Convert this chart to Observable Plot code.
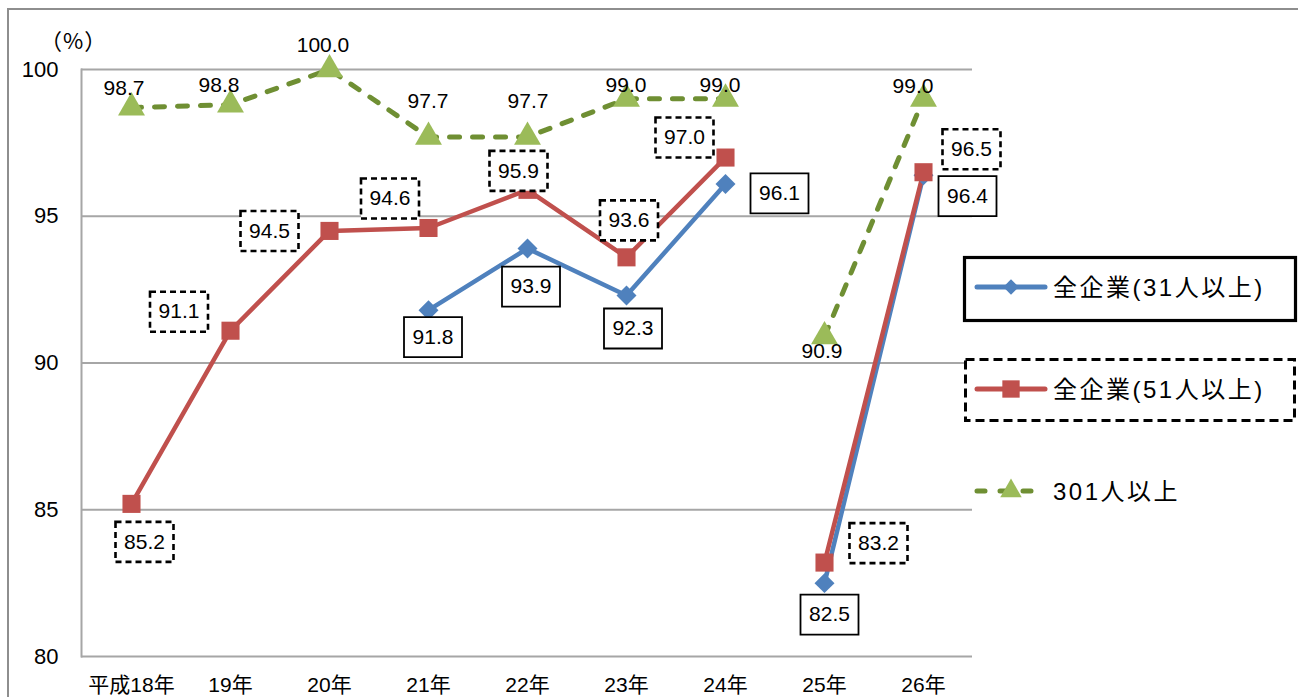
<!DOCTYPE html>
<html>
<head>
<meta charset="utf-8">
<script src="https://cdn.jsdelivr.net/npm/d3@7"></script>
<script src="https://cdn.jsdelivr.net/npm/@observablehq/plot@0.6"></script>
<style>
  html, body { margin: 0; padding: 0; background: #fff; overflow: hidden; }
  #wrap { position: relative; width: 1298px; height: 697px; overflow: hidden; }
  #frame { position: absolute; left: 7px; top: 8px; width: 1400px; height: 800px; border: 2px solid #8e8e8e; box-sizing: border-box; }
  #chart { position: absolute; left: 0; top: 0; }
  #legend { position: absolute; left: 0; top: 0; }
  #unit { position: absolute; left: 40px; top: 24px; font-family: "Noto Sans CJK JP", sans-serif; font-size: 22px; line-height: 30px; color: #000; letter-spacing: 1px; }
</style>
</head>
<body>
<div id="wrap">
  <div id="frame"></div>
  <div id="chart"></div>
  <svg id="legend" width="1298" height="697"></svg>
  <div id="unit"></div>
</div>
<script>
// ---------- data ----------
const years = ["平成18年", "19年", "20年", "21年", "22年", "23年", "24年", "25年", "26年"];
// survey series break between 24年 and 25年 (lines are not connected across it)
const period = [1, 1, 1, 1, 1, 1, 1, 2, 2];
const all31 = [null, null, null, 91.8, 93.9, 92.3, 96.1, 82.5, 96.4];
const all51 = [85.2, 91.1, 94.5, 94.6, 95.9, 93.6, 97.0, 83.2, 96.5];
const over301 = [98.7, 98.8, 100.0, 97.7, 97.7, 99.0, 99.0, 90.9, 99.0];
const seriesNames = ["全企業(31人以上)", "全企業(51人以上)", "301人以上"];
const yTicks = [80, 85, 90, 95, 100];
const yUnit = "（%）";

// ---------- label placement (pixel nudges relative to each point) ----------
const nudge31 = [null, null, null, [4.5, 27], [3.5, 38], [6.5, 33], [54, 9.5], [5, 31.5], [44, 21]];
const nudge51 = [[13, 38], [-51.5, -19], [-60, 0], [-38.5, -29.5], [-9, -19], [2.5, -37], [-41, -20], [54, -19.5], [48, -23]];
const nudge301 = [[-7.5, -19], [-11.5, -19], [-6.5, -24], [-0.5, -35.5], [0.5, -35.5], [-0.5, -13.5], [-5.5, -13.5], [-2.5, 15], [-10.5, -12.5]];

// ---------- styles ----------
const C31 = "#4F81BD", C51 = "#C0504D", C301 = "#6F8F33", C301fill = "#9BBB59";
const FONT = '"Liberation Sans", "Noto Sans CJK JP", sans-serif';

const rows = (vals) => years.map((y, i) => ({year: y, value: vals[i], period: period[i], i}))
  .filter(d => d.value != null);
const d31 = rows(all31), d51 = rows(all51), d301 = rows(over301);

// rectangular label box symbol
const boxSymbol = {draw(ctx) { ctx.rect(-29, -20, 58, 40); }};

const labelMarks = [];
function addLabels(data, nudges, boxed, dashed) {
  for (const d of data) {
    const [dx, dy] = nudges[d.i];
    if (boxed) {
      labelMarks.push(Plot.dot([d], {
        x: "year", y: "value", dx, dy, symbol: boxSymbol, r: 10,
        fill: "white", stroke: "black",
        strokeWidth: dashed ? 2.6 : 1.8,
        strokeDasharray: dashed ? "6,4" : null
      }));
    }
    labelMarks.push(Plot.text([d], {
      x: "year", y: "value", dx, dy, text: v => v.value.toFixed(1),
      fontSize: 21, fill: "black", fontFamily: FONT
    }));
  }
}
addLabels(d31, nudge31, true, false);
addLabels(d51, nudge51, true, true);
addLabels(d301, nudge301, false, false);

const chart = Plot.plot({
  width: 1298,
  height: 697,
  marginLeft: 81,
  marginRight: 326,
  marginTop: 69,
  marginBottom: 41,
  style: {fontFamily: FONT, background: "transparent", overflow: "visible", color: "black"},
  x: {type: "point", domain: years, padding: 0.5},
  y: {domain: [80, 100]},
  marks: [
    Plot.ruleY(yTicks, {stroke: "#a6a6a6", strokeWidth: 2, strokeOpacity: 1}),
    Plot.frame({anchor: "left", stroke: "#a6a6a6", strokeWidth: 2}),
    Plot.axisY({ticks: yTicks, tickSize: 0, tickPadding: 23, fontSize: 22, label: null, tickFormat: d => String(d)}),
    Plot.axisX({tickSize: 0, tickPadding: 21, fontSize: 21, label: null, style: {letterSpacing: "1px"}}),
    Plot.line(d31, {x: "year", y: "value", z: "period", stroke: C31, strokeWidth: 4.5}),
    Plot.line(d51, {x: "year", y: "value", z: "period", stroke: C51, strokeWidth: 4.5}),
    Plot.line(d301, {x: "year", y: "value", z: "period", stroke: C301, strokeWidth: 5, strokeDasharray: "10,13", strokeLinecap: "round"}),
    Plot.dot(d31, {x: "year", y: "value", symbol: "diamond2", r: 9, fill: C31, stroke: "none"}),
    Plot.dot(d51, {x: "year", y: "value", symbol: "square", r: 10.2, fill: C51, stroke: "none"}),
    Plot.dot(d301, {x: "year", y: "value", symbol: "triangle", r: 10, fill: C301fill, stroke: "none"}),
    ...labelMarks
  ]
});
document.getElementById("chart").appendChild(chart);
document.getElementById("unit").textContent = yUnit;

// ---------- legend ----------
const lg = d3.select("#legend");
lg.append("rect").attr("x", 964.5).attr("y", 257.5).attr("width", 331).attr("height", 63)
  .attr("fill", "white").attr("stroke", "black").attr("stroke-width", 3.2);
lg.append("rect").attr("x", 965.5).attr("y", 359.5).attr("width", 329).attr("height", 61)
  .attr("fill", "white").attr("stroke", "black").attr("stroke-width", 3).attr("stroke-dasharray", "9,5");

const items = [
  {y: 287, color: C31, sym: d3.symbolDiamond2, size: 150, fill: C31, dash: null},
  {y: 389, color: C51, sym: d3.symbolSquare, size: 300, fill: C51, dash: null},
  {y: 491, color: C301, sym: d3.symbolTriangle, size: 200, fill: C301fill, dash: "8,15"}
];
items.forEach((it, k) => {
  const ln = lg.append("line").attr("x1", 977).attr("x2", it.dash ? 1035 : 1045)
    .attr("y1", it.y).attr("y2", it.y).attr("stroke", it.color).attr("stroke-width", 5)
    .attr("stroke-linecap", "round");
  if (it.dash) ln.attr("stroke-dasharray", it.dash);
  lg.append("path").attr("d", d3.symbol(it.sym, it.size)()).attr("transform", `translate(1011,${it.y})`)
    .attr("fill", it.fill);
  lg.append("text").attr("x", 1053).attr("y", it.y).attr("dy", "0.36em")
    .attr("font-family", FONT).attr("font-size", 24).attr("letter-spacing", "2.5px")
    .attr("fill", "black").text(seriesNames[k]);
});
</script>
</body>
</html>
